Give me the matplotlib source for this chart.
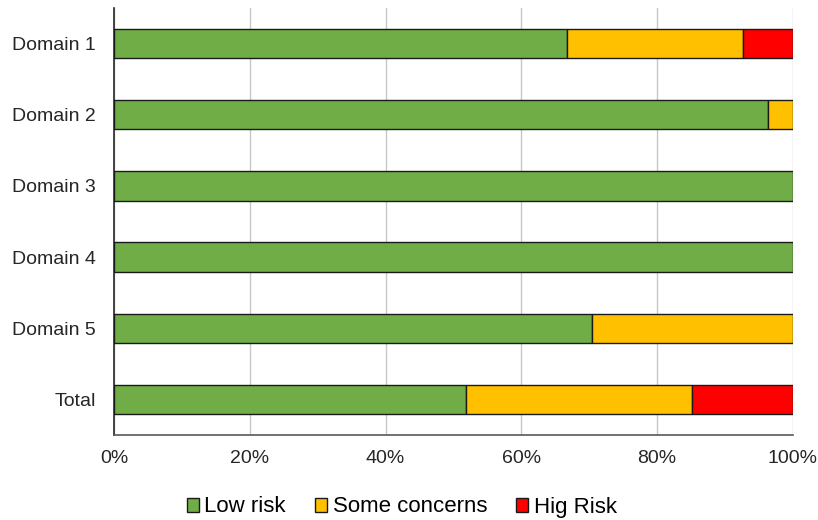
import numpy as np
import matplotlib.pyplot as plt
from matplotlib.ticker import PercentFormatter
from matplotlib.patches import Patch

plt.rcParams['font.family'] = ['Liberation Sans', 'DejaVu Sans']

categories = ["Domain 1", "Domain 2", "Domain 3", "Domain 4", "Domain 5", "Total"]
low_risk = [18 / 27, 26 / 27, 1.0, 1.0, 19 / 27, 14 / 27]
some_concerns = [7 / 27, 1 / 27, 0.0, 0.0, 8 / 27, 9 / 27]
high_risk = [2 / 27, 0.0, 0.0, 0.0, 0.0, 4 / 27]

series = [
    ("Low risk", low_risk, "#70AD47"),
    ("Some concerns", some_concerns, "#FFC000"),
    ("Hig Risk", high_risk, "#FF0000"),
]

fig = plt.figure(figsize=(8.18, 5.2), dpi=100)
ax = fig.add_axes([0.1394, 0.1635, 0.83, 0.8211])

y = np.arange(len(categories))
left = np.zeros(len(categories))
for name, vals, color in series:
    vals = np.array(vals)
    mask = vals > 0
    ax.barh(y[mask], vals[mask], left=left[mask], height=0.41, color=color,
            edgecolor="#1a1a1a", linewidth=1.0, zorder=3)
    left += vals

ax.set_xlim(0, 1)
ax.set_ylim(len(categories) - 0.5, -0.5)
ax.set_yticks(y)
ax.set_yticklabels(categories)
ax.set_xticks(np.arange(0, 1.01, 0.2))
ax.xaxis.set_major_formatter(PercentFormatter(1.0, decimals=0))
ax.tick_params(axis="both", length=0, labelsize=14, colors="#262626")
ax.tick_params(axis="y", pad=13)
ax.tick_params(axis="x", pad=11)
ax.grid(axis="x", color="#c8c8c8", linewidth=1.0, zorder=0)

for side in ["top", "right"]:
    ax.spines[side].set_visible(False)
ax.spines["left"].set_color("#262626")
ax.spines["bottom"].set_color("#595959")
ax.spines["left"].set_linewidth(1.2)
ax.spines["bottom"].set_linewidth(1.2)

handles = [Patch(facecolor=c, edgecolor="#1a1a1a", label=n) for n, _, c in series]
fig.legend(handles=handles, loc="center", bbox_to_anchor=(0.491, 0.025),
           ncol=3, frameon=False, fontsize=16, handlelength=0.55, handleheight=0.6,
           handletextpad=0.25, columnspacing=1.3, borderpad=0)

fig.savefig("out.png", dpi=100)
